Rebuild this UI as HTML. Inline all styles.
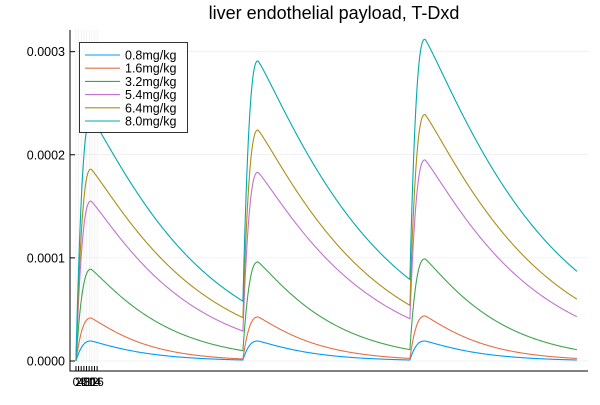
<!DOCTYPE html>
<html><head><meta charset="utf-8"><style>
body{margin:0;background:#fff;}
svg{font-family:"Liberation Sans","DejaVu Sans",sans-serif;}
</style></head><body>
<svg id="chart" width="600" height="400" viewBox="0 0 600 400">
<rect x="0" y="0" width="600" height="400" fill="#fff"/>
<text x="334" y="19" font-size="18" text-anchor="middle" fill="#000">liver endothelial payload, T-Dxd</text>
<g id="grid"></g>
<g id="series"></g>
<g id="axes"></g>
<g id="legend"></g>
</svg>
<script>
const seriesNames = ["0.8mg/kg","1.6mg/kg","3.2mg/kg","5.4mg/kg","6.4mg/kg","8.0mg/kg"];
const seriesColors = ["#009AFA","#E36F47","#3EA44E","#C371D2","#AC8E18","#00AAAE"];
const doseTimes = [0, 21, 42];
const cycleLength = 21;
const peakDelay = 1.9;
const peaks0 = [1.94e-5, 1.94e-5, 1.94e-5];
const peaks1 = [4.17e-5, 4.27e-5, 4.37e-5];
const peaks2 = [8.9e-5, 9.6e-5, 9.9e-5];
const peaks3 = [1.55e-4, 1.83e-4, 1.95e-4];
const peaks4 = [1.86e-4, 2.24e-4, 2.39e-4];
const peaks5 = [2.36e-4, 2.91e-4, 3.12e-4];
const ends0 = [1.0e-6, 1.0e-6, 1.0e-6];
const ends1 = [2.0e-6, 2.5e-6, 2.5e-6];
const ends2 = [1.0e-5, 1.1e-5, 1.1e-5];
const ends3 = [2.9e-5, 4.1e-5, 4.3e-5];
const ends4 = [4.2e-5, 5.4e-5, 6.0e-5];
const ends5 = [5.8e-5, 7.9e-5, 8.7e-5];
const yTicks = [0, 0.0001, 0.0002, 0.0003];
const yTickLabels = ["0.0000","0.0001","0.0002","0.0003"];
const xTicks = [0, 0.33, 0.66, 1.0, 1.33, 1.66, 2.0, 2.33, 2.66];
const xTickLabels = ["0","2","4","6","8","10","12","14","16"];

const peaks = [peaks0,peaks1,peaks2,peaks3,peaks4,peaks5];
const ends = [ends0,ends1,ends2,ends3,ends4,ends5];
const L=70,R=588,T=30,B=371;
const xMin=-0.75,xMax=64.4,yMin=-0.0000097,yMax=0.000321;
function xs(t){return L+(t-xMin)/(xMax-xMin)*(R-L);}
function ys(v){return B-(v-yMin)/(yMax-yMin)*(B-T);}
const NS="http://www.w3.org/2000/svg";
function mk(tag,attrs,parent){const e=document.createElementNS(NS,tag);for(const k in attrs)e.setAttribute(k,attrs[k]);parent.appendChild(e);return e;}
const grid=document.getElementById('grid'),axes=document.getElementById('axes'),sg=document.getElementById('series'),lg=document.getElementById('legend');
yTicks.forEach((v,i)=>{
  const g=mk('line',{x1:L,x2:R,y1:ys(v),y2:ys(v),stroke:'#000','stroke-opacity':0.1,'stroke-width':0.5},grid);
  
  
  const tk=mk('line',{x1:L,x2:L+5,y1:ys(v),y2:ys(v),stroke:'#000','stroke-width':1},axes);
  
  
  const tx=mk('text',{x:L-5,y:ys(v)+4.5,'font-size':12.5,'text-anchor':'end',fill:'#000'},axes);
  tx.textContent=yTickLabels[i];
  
  
});
xTicks.forEach((v,i)=>{
  const g=mk('line',{x1:xs(v),x2:xs(v),y1:T,y2:B,stroke:'#000','stroke-opacity':0.1,'stroke-width':0.5},grid);
  
  
  const tk=mk('line',{x1:xs(v),x2:xs(v),y1:B,y2:B-5,stroke:'#000','stroke-width':1},axes);
  
  
  const tx=mk('text',{x:xs(v),y:B+15,'font-size':12,'text-anchor':'middle',fill:'#000'},axes);
  tx.textContent=xTickLabels[i];
  
  
});
const ax=mk('path',{d:`M${L},${T}V${B}H${R}`,fill:'none',stroke:'#000','stroke-width':1},axes);



function valueAt(si,c,tr){
  const S=c===0?0:ends[si][c-1], P=peaks[si][c], E=ends[si][c];
  if(tr<=peakDelay){const f=1-Math.pow(1-tr/peakDelay,2.5);return S+(P-S)*f;}
  const u=(tr-peakDelay)/(cycleLength-peakDelay);
  return P*Math.pow(E/P,Math.pow(u,1.12));
}
seriesNames.forEach((name,si)=>{
  let d='';
  doseTimes.forEach((t0,c)=>{
    for(let k=0;k<=300;k++){
      const tr=k<100?k/100*peakDelay*1.5:peakDelay*1.5+(k-100)/200*(cycleLength-peakDelay*1.5);
      const v=valueAt(si,c,tr);
      d+=(d?'L':'M')+xs(t0+tr).toFixed(2)+','+ys(v).toFixed(2);
    }
  });
  const p=mk('path',{d:d,fill:'none',stroke:seriesColors[si],'stroke-width':1.1},sg);
  
  
});
const lb=mk('rect',{x:79.5,y:42.5,width:108,height:90,fill:'#fff',stroke:'#000','stroke-opacity':0.8,'stroke-width':1},lg);


seriesNames.forEach((name,si)=>{
  const y=55+si*13.2;
  const ln=mk('line',{x1:85,x2:120,y1:y,y2:y,stroke:seriesColors[si],'stroke-width':1.1},lg);
  
  
  const tx=mk('text',{x:125,y:y+4.5,'font-size':12.5,fill:'#000'},lg);
  tx.textContent=name;
  
  
});
</script>
</body></html>
